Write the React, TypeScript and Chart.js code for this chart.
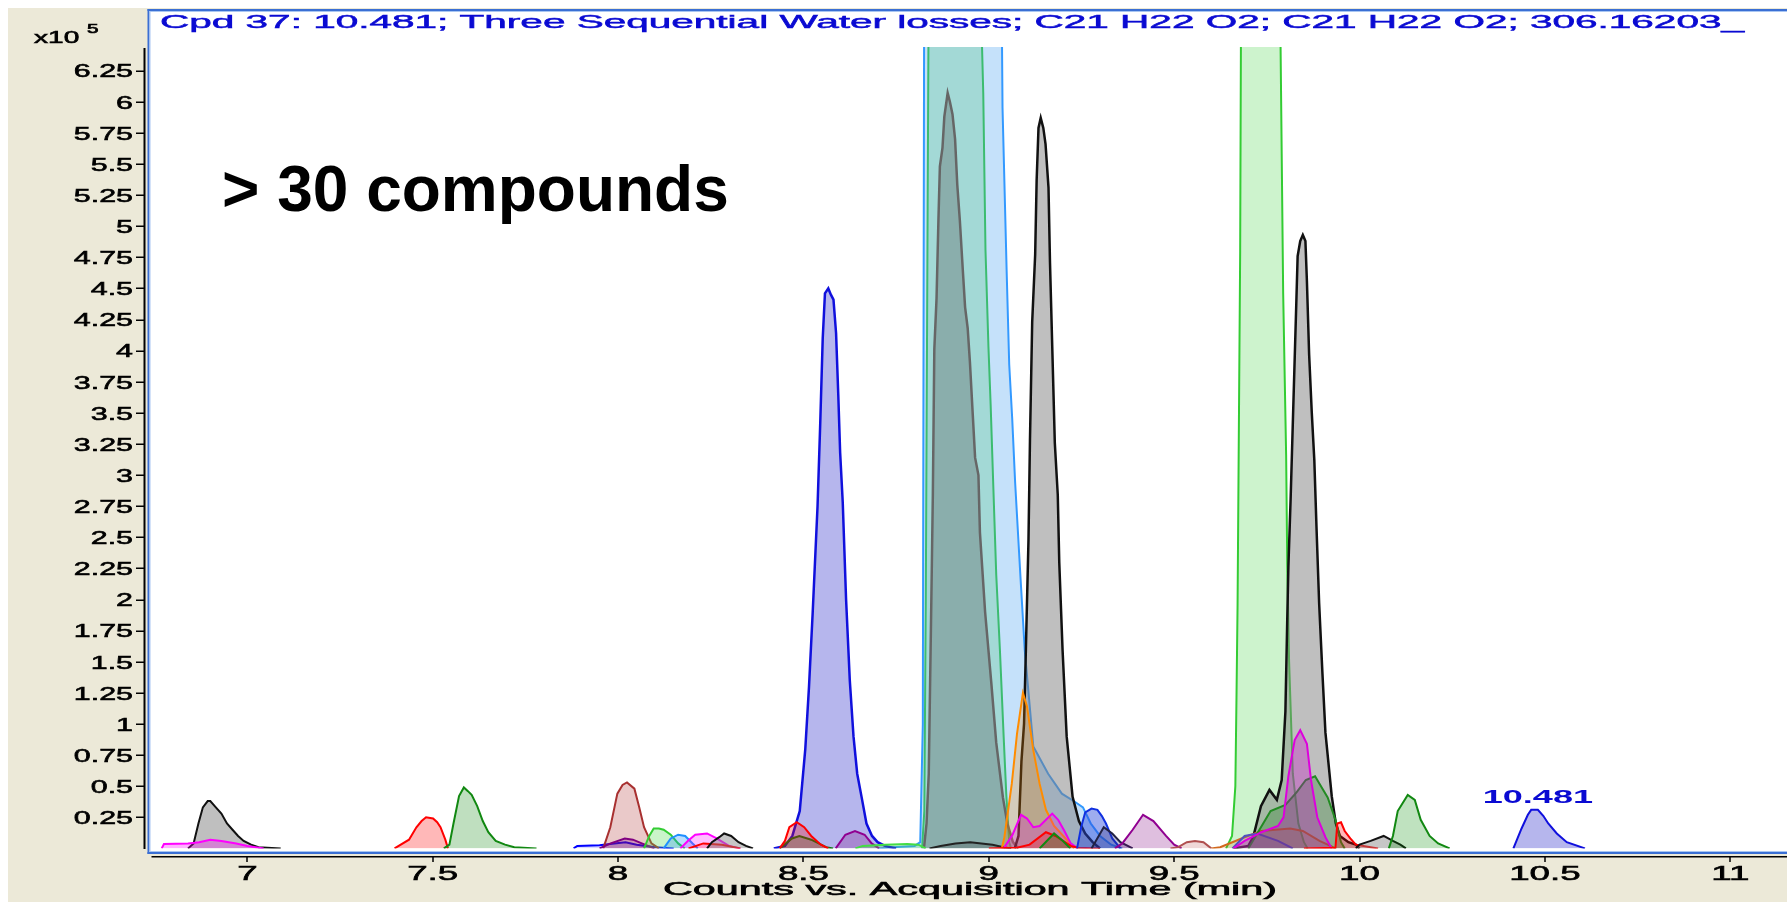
import React, { useEffect, useRef } from "react";
import Chart from "chart.js/auto";

// ---------- data (time in min, counts in x10^5) ----------
const xTickValues = [7, 7.5, 8, 8.5, 9, 9.5, 10, 10.5, 11];
const xTickLabels = ["7", "7.5", "8", "8.5", "9", "9.5", "10", "10.5", "11"];
const yTickValues = [0.25, 0.5, 0.75, 1, 1.25, 1.5, 1.75, 2, 2.25, 2.5, 2.75, 3, 3.25, 3.5, 3.75, 4, 4.25, 4.5, 4.75, 5, 5.25, 5.5, 5.75, 6, 6.25];
const yTickLabels = ["0.25", "0.5", "0.75", "1", "1.25", "1.5", "1.75", "2", "2.25", "2.5", "2.75", "3", "3.25", "3.5", "3.75", "4", "4.25", "4.5", "4.75", "5", "5.25", "5.5", "5.75", "6", "6.25"];

const titleText = "Cpd 37: 10.481; Three Sequential Water losses; C21 H22 O2; C21 H22 O2; 306.16203_";
const xAxisTitle = "Counts vs. Acquisition Time (min)";
const yExponent = ["x10", "5"];
const overlayText = "> 30 compounds";
const peakLabelText = "10.481";
const peakLabelTime = 10.481;
const peakLabelValue = 0.31;

type P = [number, number][];

const grayPeak690: P = [[6.84,0],[6.855,0.04],[6.868,0.2],[6.88,0.33],[6.893,0.38],[6.9,0.38],[6.915,0.33],[6.93,0.28],[6.945,0.2],[6.96,0.15],[6.975,0.1],[6.99,0.06],[7.01,0.03],[7.03,0.01],[7.09,0]];
const magentaPeak690: P = [[6.769,0],[6.775,0.035],[6.84,0.04],[6.87,0.05],[6.9,0.07],[6.93,0.06],[6.97,0.04],[7.0,0.02],[7.044,0]];
const redPeak749: P = [[7.397,0],[7.436,0.07],[7.456,0.17],[7.47,0.22],[7.482,0.25],[7.501,0.24],[7.512,0.21],[7.521,0.17],[7.534,0.07],[7.541,0]];
const greenPeak758: P = [[7.53,0],[7.545,0.03],[7.556,0.2],[7.571,0.42],[7.584,0.49],[7.595,0.46],[7.605,0.43],[7.62,0.34],[7.635,0.22],[7.65,0.13],[7.67,0.06],[7.695,0.03],[7.72,0.01],[7.78,0]];
const blueBase790: P = [[7.88,0],[7.89,0.02],[7.95,0.025],[7.99,0.04],[8.02,0.05],[8.05,0.03],[8.1,0.01],[8.15,0]];
const purplePeak802: P = [[7.95,0],[7.98,0.04],[8.018,0.08],[8.04,0.07],[8.064,0.04],[8.098,0]];
const brownPeak802: P = [[7.96,0],[7.979,0.17],[7.998,0.44],[8.012,0.51],[8.024,0.53],[8.044,0.48],[8.057,0.33],[8.07,0.17],[8.09,0.04],[8.11,0]];
const limePeak810: P = [[8.07,0],[8.084,0.1],[8.096,0.16],[8.11,0.16],[8.123,0.15],[8.142,0.11],[8.162,0.04],[8.18,0]];
const dodgerPeak816: P = [[8.123,0],[8.142,0.08],[8.162,0.11],[8.181,0.1],[8.201,0.04],[8.215,0]];
const pinkPeak824: P = [[8.168,0],[8.188,0.06],[8.208,0.11],[8.24,0.12],[8.266,0.08],[8.299,0.02],[8.33,0]];
const redBump825: P = [[8.19,0],[8.23,0.04],[8.28,0.03],[8.33,0]];
const grayPeak829: P = [[8.24,0],[8.253,0.05],[8.273,0.09],[8.286,0.12],[8.305,0.1],[8.325,0.05],[8.345,0.02],[8.364,0]];
const redPeak848: P = [[8.436,0],[8.45,0.06],[8.462,0.17],[8.482,0.21],[8.502,0.17],[8.521,0.1],[8.547,0.03],[8.567,0]];
const darkGreenPeak848: P = [[8.436,0],[8.469,0.08],[8.489,0.1],[8.521,0.07],[8.561,0.01],[8.58,0]];
const bluePeak857: P = [[8.42,0],[8.45,0.02],[8.47,0.1],[8.49,0.3],[8.505,0.8],[8.515,1.3],[8.525,1.9],[8.538,2.75],[8.545,3.39],[8.552,4.1],[8.558,4.46],[8.567,4.5],[8.574,4.45],[8.581,4.41],[8.588,4.14],[8.594,3.64],[8.599,3.18],[8.606,2.78],[8.615,2.0],[8.625,1.35],[8.635,0.9],[8.645,0.6],[8.657,0.41],[8.67,0.2],[8.685,0.1],[8.7,0.05],[8.72,0.02],[8.75,0]];
const purplePeak865: P = [[8.587,0],[8.613,0.11],[8.639,0.14],[8.665,0.11],[8.684,0.04],[8.704,0]];
const limeBase875: P = [[8.64,0],[8.66,0.02],[8.72,0.03],[8.78,0.035],[8.81,0.03],[8.83,0]];
const skyTallPeak: P = [[8.7,0],[8.74,0.01],[8.8,0.02],[8.815,0.05],[8.822,1.0],[8.826,7.5],[8.85,11],[8.93,14],[9.0,12],[9.03,8.5],[9.037,5.95],[9.048,4.65],[9.055,3.89],[9.063,3.46],[9.071,2.94],[9.085,2.2],[9.097,1.59],[9.12,0.82],[9.16,0.6],[9.197,0.44],[9.232,0.375],[9.254,0.33],[9.275,0.2],[9.3,0.1],[9.33,0.03],[9.36,0]];
const greenTallPeak884: P = [[8.82,0],[8.826,0.3],[8.83,2.0],[8.835,5.15],[8.842,9.5],[8.9,12],[8.96,10],[8.975,7.2],[8.985,6.07],[8.991,4.81],[8.999,4.03],[9.005,3.56],[9.012,2.92],[9.02,2.2],[9.03,1.59],[9.04,0.9],[9.047,0.44],[9.055,0.05],[9.06,0]];
const grayPeak888: P = [[8.825,0],[8.832,0.2],[8.838,0.6],[8.844,1.8],[8.849,2.84],[8.853,4.01],[8.859,4.42],[8.864,5.04],[8.868,5.48],[8.875,5.63],[8.88,5.88],[8.889,6.07],[8.895,6.0],[8.902,5.9],[8.909,5.7],[8.915,5.33],[8.922,5.04],[8.93,4.64],[8.936,4.35],[8.943,4.18],[8.949,3.91],[8.957,3.47],[8.963,3.14],[8.972,3.0],[8.976,2.54],[8.99,1.9],[9.007,1.32],[9.02,0.85],[9.038,0.41],[9.05,0.2],[9.065,0.05],[9.08,0]];
const blackBase895: P = [[8.84,0],[8.87,0.02],[8.91,0.04],[8.95,0.05],[8.98,0.04],[9.01,0.03],[9.04,0.01],[9.06,0]];
const orangePeak909: P = [[9.035,0],[9.042,0.09],[9.062,0.52],[9.076,0.92],[9.092,1.25],[9.103,1.14],[9.12,0.79],[9.137,0.52],[9.154,0.31],[9.176,0.18],[9.21,0.07],[9.23,0]];
const magentaPeak910: P = [[9.04,0],[9.064,0.11],[9.087,0.27],[9.103,0.24],[9.12,0.17],[9.137,0.18],[9.171,0.28],[9.187,0.23],[9.204,0.14],[9.221,0.04],[9.24,0]];
const redPeak915: P = [[9.0,0],[9.076,0.005],[9.11,0.03],[9.154,0.13],[9.18,0.1],[9.221,0.02],[9.24,0.005],[9.3,0]];
const darkGreenPeak917: P = [[9.137,0],[9.176,0.12],[9.2,0.06],[9.22,0]];
const grayPeak914: P = [[9.07,0],[9.08,0.1],[9.088,0.7],[9.095,1.0],[9.1,1.6],[9.107,2.48],[9.111,3.28],[9.117,4.23],[9.125,4.77],[9.129,5.37],[9.134,5.79],[9.14,5.87],[9.147,5.79],[9.153,5.66],[9.161,5.31],[9.165,4.71],[9.172,3.93],[9.178,3.26],[9.186,2.84],[9.19,2.3],[9.199,1.59],[9.21,0.9],[9.226,0.415],[9.243,0.22],[9.26,0.12],[9.28,0.05],[9.3,0]];
const royalPeak927: P = [[9.238,0],[9.249,0.17],[9.26,0.29],[9.277,0.32],[9.293,0.31],[9.305,0.26],[9.316,0.2],[9.333,0.08],[9.355,0]];
const slatePeak931: P = [[9.277,0],[9.31,0.17],[9.333,0.12],[9.355,0.05],[9.388,0]];
const purplePeak941: P = [[9.34,0],[9.36,0.04],[9.388,0.15],[9.416,0.27],[9.444,0.22],[9.478,0.1],[9.5,0.03],[9.52,0]];
const rosyPeak955: P = [[9.49,0],[9.511,0.01],[9.534,0.05],[9.556,0.06],[9.579,0.05],[9.6,0]];
const siennaPeak980: P = [[9.6,0],[9.624,0.01],[9.69,0.09],[9.735,0.14],[9.813,0.16],[9.847,0.14],[9.892,0.06],[9.936,0]];
const slateBluePeak972: P = [[9.657,0],[9.69,0.1],[9.724,0.12],[9.78,0.06],[9.82,0]];
const greenTallPeak972: P = [[9.64,0],[9.656,0.1],[9.665,0.5],[9.668,1.2],[9.671,1.96],[9.678,4.8],[9.683,9],[9.72,13],[9.77,10],[9.785,7.0],[9.794,4.46],[9.802,3.16],[9.805,2.28],[9.81,1.5],[9.82,0.6],[9.835,0.2],[9.85,0.05],[9.86,0]];
const magentaPeak984: P = [[9.66,0],[9.69,0.06],[9.735,0.13],[9.78,0.18],[9.795,0.25],[9.808,0.58],[9.825,0.87],[9.84,0.95],[9.858,0.84],[9.869,0.55],[9.886,0.25],[9.908,0.09],[9.925,0]];
const darkGreenPeak988: P = [[9.7,0],[9.73,0.15],[9.76,0.3],[9.8,0.35],[9.83,0.45],[9.855,0.55],[9.88,0.58],[9.9,0.48],[9.914,0.41],[9.936,0.22],[9.95,0.05],[9.96,0]];
const grayPeak985: P = [[9.66,0],[9.7,0.02],[9.713,0.09],[9.734,0.34],[9.757,0.47],[9.777,0.39],[9.79,0.55],[9.8,1.1],[9.805,1.84],[9.808,2.26],[9.814,2.8],[9.821,3.52],[9.829,4.34],[9.833,4.76],[9.84,4.88],[9.847,4.93],[9.854,4.88],[9.858,4.56],[9.864,3.97],[9.871,3.51],[9.878,3.12],[9.884,2.57],[9.891,1.97],[9.9,1.4],[9.908,0.93],[9.925,0.42],[9.936,0.2],[9.947,0.1],[9.97,0.05],[9.99,0.03],[10.0,0]];
const redPeak994: P = [[9.85,0],[9.935,0.005],[9.94,0.2],[9.95,0.21],[9.96,0.14],[9.975,0.08],[9.99,0.03],[10.03,0.01],[10.05,0]];
const grayPeak1006: P = [[9.99,0],[10.0,0.03],[10.03,0.06],[10.065,0.1],[10.09,0.06],[10.11,0.03],[10.125,0]];
const greenPeak1013: P = [[10.079,0],[10.09,0.1],[10.103,0.3],[10.13,0.43],[10.149,0.39],[10.165,0.23],[10.189,0.1],[10.212,0.04],[10.243,0]];
const bluePeak1048: P = [[10.415,0],[10.437,0.16],[10.454,0.27],[10.463,0.31],[10.481,0.31],[10.496,0.26],[10.509,0.2],[10.532,0.12],[10.559,0.05],[10.608,0]];

// first entry is painted on top
const series: { pts: P; line: string; fill: string; w?: number }[] = [
  { pts: bluePeak1048, line: "#1010dd", fill: "rgba(110,110,220,0.5)" },
  { pts: greenPeak1013, line: "#118811", fill: "rgba(0,140,0,0.25)" },
  { pts: grayPeak1006, line: "#111111", fill: "rgba(128,128,128,0.45)" },
  { pts: redPeak994, line: "#ff0000", fill: "rgba(255,0,0,0.28)" },
  { pts: magentaPeak984, line: "#dd00dd", fill: "rgba(200,0,200,0.3)" },
  { pts: darkGreenPeak988, line: "#228b22", fill: "rgba(0,110,0,0.25)" },
  { pts: slateBluePeak972, line: "#5050c0", fill: "rgba(106,90,205,0.2)" },
  { pts: siennaPeak980, line: "#d2691e", fill: "rgba(210,105,30,0.2)" },
  { pts: rosyPeak955, line: "#b05050", fill: "rgba(190,100,100,0.25)" },
  { pts: purplePeak941, line: "#900090", fill: "rgba(128,0,128,0.25)" },
  { pts: slatePeak931, line: "#222244", fill: "rgba(40,40,120,0.3)" },
  { pts: royalPeak927, line: "#1030e0", fill: "rgba(40,70,220,0.45)" },
  { pts: darkGreenPeak917, line: "#118811", fill: "rgba(0,128,0,0.25)" },
  { pts: redPeak915, line: "#ff0000", fill: "rgba(255,0,0,0.25)" },
  { pts: magentaPeak910, line: "#ee00ee", fill: "rgba(230,0,230,0.22)" },
  { pts: orangePeak909, line: "#ff8c00", fill: "rgba(255,140,0,0.25)" },
  { pts: blackBase895, line: "#222222", fill: "rgba(60,60,60,0.25)" },
  { pts: limeBase875, line: "#44dd44", fill: "rgba(80,220,80,0.25)" },
  { pts: purplePeak865, line: "#900090", fill: "rgba(128,0,128,0.25)" },
  { pts: redPeak848, line: "#ff0000", fill: "rgba(255,0,0,0.28)" },
  { pts: darkGreenPeak848, line: "#117711", fill: "rgba(0,110,0,0.25)" },
  { pts: grayPeak829, line: "#111111", fill: "rgba(128,128,128,0.45)" },
  { pts: redBump825, line: "#ff0000", fill: "rgba(255,0,0,0.2)" },
  { pts: pinkPeak824, line: "#ff00ff", fill: "rgba(255,0,255,0.25)" },
  { pts: dodgerPeak816, line: "#1e90ff", fill: "rgba(30,144,255,0.3)" },
  { pts: limePeak810, line: "#33cc33", fill: "rgba(80,220,80,0.3)" },
  { pts: purplePeak802, line: "#800080", fill: "rgba(128,0,128,0.25)" },
  { pts: brownPeak802, line: "#a83030", fill: "rgba(170,40,40,0.25)" },
  { pts: blueBase790, line: "#0000ff", fill: "rgba(0,0,255,0.15)" },
  { pts: greenPeak758, line: "#118811", fill: "rgba(0,128,0,0.25)" },
  { pts: redPeak749, line: "#ff0000", fill: "rgba(255,0,0,0.28)" },
  { pts: magentaPeak690, line: "#ff00ff", fill: "rgba(255,0,255,0.3)" },
  { pts: grayPeak690, line: "#111111", fill: "rgba(128,128,128,0.5)" },
  { pts: grayPeak985, line: "#111111", fill: "rgba(128,128,128,0.5)", w: 2.5 },
  { pts: grayPeak914, line: "#111111", fill: "rgba(128,128,128,0.5)", w: 2.5 },
  { pts: grayPeak888, line: "#666666", fill: "rgba(100,110,110,0.4)", w: 2.5 },
  { pts: bluePeak857, line: "#1010dd", fill: "rgba(110,110,220,0.5)", w: 2.5 },
  { pts: greenTallPeak972, line: "#33cc33", fill: "rgba(90,215,90,0.3)" },
  { pts: greenTallPeak884, line: "#3cbc70", fill: "rgba(100,202,147,0.35)" },
  { pts: skyTallPeak, line: "#3399ff", fill: "rgba(140,195,245,0.5)" },
];

const FONT = '"Liberation Sans", Arial, sans-serif';

function stretchText(
  ctx: CanvasRenderingContext2D, text: string, x: number, y: number,
  font: string, color: string, sx: number, align: "left" | "center" | "right", stroke = 0.6
) {
  ctx.save();
  ctx.font = font;
  ctx.fillStyle = color;
  ctx.strokeStyle = color;
  ctx.lineWidth = stroke;
  ctx.textAlign = "left";
  ctx.textBaseline = "alphabetic";
  const w = ctx.measureText(text).width * sx;
  const x0 = align === "left" ? x : align === "center" ? x - w / 2 : x - w;
  ctx.translate(x0, y);
  ctx.scale(sx, 1);
  ctx.fillText(text, 0, 0);
  if (stroke > 0) ctx.strokeText(text, 0, 0);
  ctx.restore();
}

function fitText(
  ctx: CanvasRenderingContext2D, text: string, x: number, y: number,
  font: string, color: string, width: number, stroke = 0.6
) {
  ctx.save();
  ctx.font = font;
  const sx = width / ctx.measureText(text).width;
  ctx.restore();
  stretchText(ctx, text, x, y, font, color, sx, "left", stroke);
}

const decor = {
  id: "decor",
  beforeDraw(chart: any) {
    const { ctx, width, height } = chart;
    ctx.save();
    ctx.fillStyle = "#ECE9D8";
    ctx.fillRect(0, 0, width, height);
    ctx.fillStyle = "#ffffff";
    ctx.fillRect(141, 2, width - 141, 843);
    ctx.restore();
  },
  afterDraw(chart: any) {
    const { ctx, width } = chart;
    const xs = chart.scales.x;
    const ys = chart.scales.y;
    ctx.save();
    // frame
    ctx.fillStyle = "#3a6fd4";
    ctx.fillRect(139.5, 1, 2, 845);
    ctx.fillRect(139.5, 1, width, 2);
    ctx.fillRect(139.5, 844, width, 2);
    ctx.fillStyle = "#a9c6f2";
    ctx.fillRect(141.5, 3, 1, 841);
    ctx.fillRect(141.5, 3, width, 1);
    ctx.fillRect(141.5, 843, width, 1);

    // y axis
    ctx.fillStyle = "#000";
    ctx.fillRect(135.5, 40, 2, 801);
    yTickValues.forEach((v, i) => {
      const y = ys.getPixelForValue(v);
      ctx.fillStyle = "#000";
      ctx.fillRect(128, Math.round(y) - 0.5, 8, 1.5);
      stretchText(ctx, yTickLabels[i], 125, y + 6.8, `19px ${FONT}`, "#000", 1.6, "right");
    });
    stretchText(ctx, yExponent[0], 26, 35.3, `17px ${FONT}`, "#000", 1.65, "left");
    stretchText(ctx, yExponent[1], 79, 25, `13px ${FONT}`, "#000", 1.6, "left");

    // x axis
    ctx.fillStyle = "#000";
    ctx.fillRect(143.5, 848, width, 1.5);
    xTickValues.forEach((v, i) => {
      const x = xs.getPixelForValue(v);
      ctx.fillStyle = "#000";
      ctx.fillRect(Math.round(x) - 0.75, 849, 1.5, 5);
      stretchText(ctx, xTickLabels[i], x, 872, `21px ${FONT}`, "#000", 1.75, "center");
    });
    fitText(ctx, xAxisTitle, 655, 887, `19px ${FONT}`, "#000", 614);

    // title inside plot
    fitText(ctx, titleText, 152, 20, `18px ${FONT}`, "#0a0ad2", 1584, 0.5);

    // peak annotation
    const px = xs.getPixelForValue(peakLabelTime);
    const py = ys.getPixelForValue(peakLabelValue);
    stretchText(ctx, peakLabelText, px, py - 7, `bold 19px ${FONT}`, "#0a0ad2", 1.9, "center", 0);

    // overlay text
    ctx.font = `bold 64px ${FONT}`;
    ctx.fillStyle = "#000";
    ctx.textAlign = "left";
    ctx.textBaseline = "alphabetic";
    ctx.fillText(overlayText, 214, 203);
    ctx.restore();
  },
};

export default function App() {
  const ref = useRef<HTMLCanvasElement | null>(null);
  useEffect(() => {
    if (!ref.current) return;
    const datasets = series.map((s) => ({
      data: s.pts.map(([t, v]) => ({ x: t, y: v })),
      borderColor: s.line,
      backgroundColor: s.fill,
      borderWidth: s.w ?? 2,
      fill: "origin",
      pointRadius: 0,
      tension: 0,
    }));
    const chart = new Chart(ref.current, {
      type: "line",
      data: { datasets } as any,
      options: {
        animation: false,
        responsive: false,
        maintainAspectRatio: false,
        devicePixelRatio: 1,
        layout: { padding: { left: 140, top: 39, right: 0, bottom: 53.6 } },
        plugins: { legend: { display: false }, tooltip: { enabled: false }, title: { display: false } },
        events: [],
        scales: {
          x: { type: "linear", min: 6.732, max: 11.153, display: false },
          y: { type: "linear", min: 0, max: 6.44, display: false },
        },
      } as any,
      plugins: [decor],
    });
    return () => chart.destroy();
  }, []);
  return (
    <div style={{ position: "fixed", left: 8, top: 8, width: 1779, height: 894, overflow: "hidden", background: "#ECE9D8" }}>
      <canvas ref={ref} width={1779} height={894} style={{ width: 1779, height: 894, display: "block" }} />
    </div>
  );
}
